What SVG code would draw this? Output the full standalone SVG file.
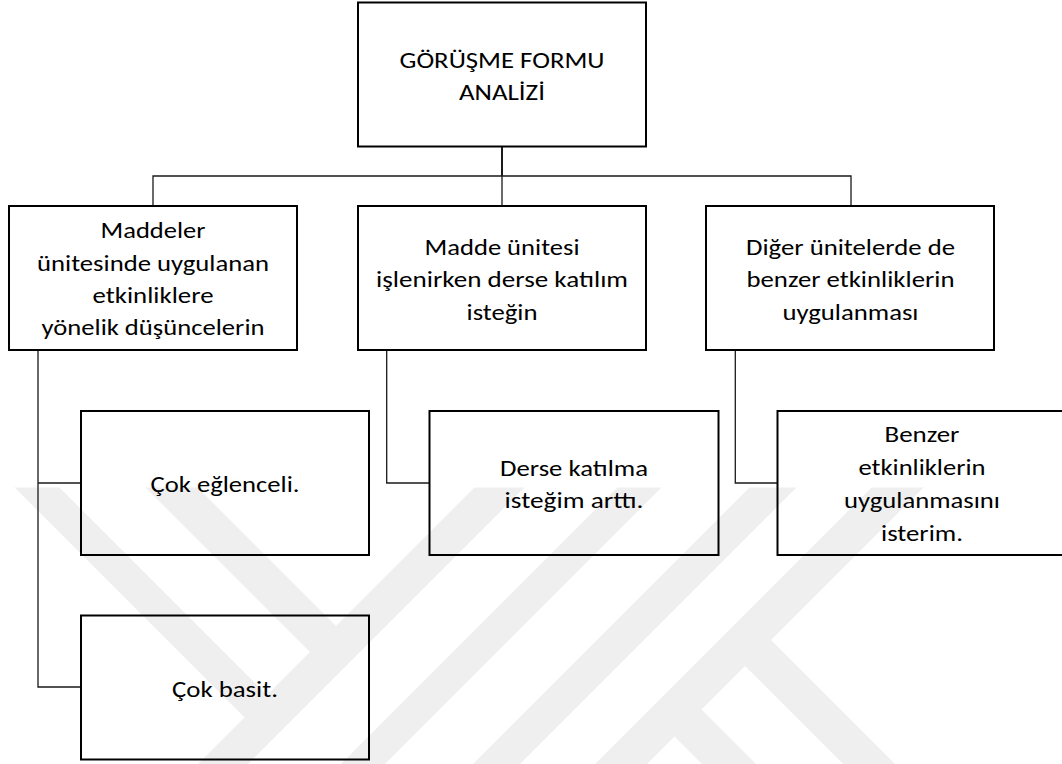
<svg xmlns="http://www.w3.org/2000/svg" width="1062" height="764" viewBox="0 0 1062 764">
<style>
  .box { fill: none; stroke: #000; stroke-width: 2; }
  .wire { fill: none; stroke: #1a1a1a; stroke-width: 1.3; }
  .wm { fill: #efefef; }
  text { font-family: Carlito, Lato, "Open Sans", sans-serif; font-size: 23px; font-weight: 300; fill: #000; text-anchor: middle; }
</style>
<defs>
  <clipPath id="wmclip"><rect x="0" y="487.5" width="1062" height="277"/></clipPath>
</defs>
<rect width="1062" height="764" fill="#fff"/>
<g id="watermark" clip-path="url(#wmclip)">
  <polygon class="wm" points="14,487 59,487 278.5,706.5 256,729"/>
  <polygon class="wm" points="145,487 197,487 347.5,637.5 321.5,663.5"/>
  <polygon class="wm" points="475,487 525,487 212,800 162,800"/>
  <polygon class="wm" points="618,487 662,487 349,800 305,800"/>
  <polygon class="wm" points="750,487 797,487 484,800 437,800"/>
  <polygon class="wm" points="872,487 924,487 611,800 559,800"/>
  <polygon class="wm" points="729.5,650.5 755.5,624.5 931,800 879,800"/>
  <polygon class="wm" points="659,721 686,694 792,800 738,800"/>
</g>
<g id="connectors">
  <line class="wire" x1="502" y1="147" x2="502" y2="176" style="stroke-width:2"/>
  <polyline class="wire" points="153,206 153,176 851,176 851,206"/>
  <line class="wire" x1="502" y1="176" x2="502" y2="206"/>
  <polyline class="wire" points="38,351 38,687 81,687"/>
  <line class="wire" x1="38" y1="483" x2="81" y2="483"/>
  <polyline class="wire" points="386.7,351 386.7,483 429.5,483"/>
  <polyline class="wire" points="735.3,351 735.3,483 777.5,483"/>
</g>
<g id="root">
  <rect class="box" x="358" y="2.5" width="288" height="144"/>
  <text x="502" y="67.5" textLength="205" lengthAdjust="spacingAndGlyphs">GÖRÜŞME FORMU</text>
  <text x="502" y="99.5" textLength="86" lengthAdjust="spacingAndGlyphs">ANALİZİ</text>
</g>
<g id="n-maddeler">
  <rect class="box" x="9" y="206" width="288" height="144"/>
  <text x="153" y="238.3" textLength="105" lengthAdjust="spacingAndGlyphs">Maddeler</text>
  <text x="153" y="270.6" textLength="232" lengthAdjust="spacingAndGlyphs">ünitesinde uygulanan</text>
  <text x="153" y="302.9" textLength="121" lengthAdjust="spacingAndGlyphs">etkinliklere</text>
  <text x="153" y="335.2" textLength="223" lengthAdjust="spacingAndGlyphs">yönelik düşüncelerin</text>
</g>
<g id="n-madde">
  <rect class="box" x="358" y="206" width="288" height="144"/>
  <text x="502" y="255" textLength="155" lengthAdjust="spacingAndGlyphs">Madde ünitesi</text>
  <text x="502" y="287.3" textLength="252" lengthAdjust="spacingAndGlyphs">işlenirken derse katılım</text>
  <text x="502" y="319.6" textLength="71" lengthAdjust="spacingAndGlyphs">isteğin</text>
</g>
<g id="n-diger">
  <rect class="box" x="706" y="206" width="288" height="144"/>
  <text x="850.5" y="255" textLength="209" lengthAdjust="spacingAndGlyphs">Diğer ünitelerde de</text>
  <text x="850.5" y="287.3" textLength="208" lengthAdjust="spacingAndGlyphs">benzer etkinliklerin</text>
  <text x="850.5" y="319.6" textLength="136" lengthAdjust="spacingAndGlyphs">uygulanması</text>
</g>
<g id="n-eglenceli">
  <rect class="box" x="81" y="411" width="288" height="144"/>
  <text x="225" y="492" textLength="149" lengthAdjust="spacingAndGlyphs">Çok eğlenceli.</text>
</g>
<g id="n-basit">
  <rect class="box" x="81" y="615.5" width="288" height="144"/>
  <text x="225" y="696.7" textLength="106" lengthAdjust="spacingAndGlyphs">Çok basit.</text>
</g>
<g id="n-derse">
  <rect class="box" x="429.5" y="411" width="289" height="144"/>
  <text x="574" y="475.7" textLength="148" lengthAdjust="spacingAndGlyphs">Derse katılma</text>
  <text x="574" y="508.3" textLength="139" lengthAdjust="spacingAndGlyphs">isteğim arttı.</text>
</g>
<g id="n-benzer">
  <rect class="box" x="777.5" y="411" width="289" height="144"/>
  <text x="922" y="441.5" textLength="75" lengthAdjust="spacingAndGlyphs">Benzer</text>
  <text x="922" y="474.5" textLength="127" lengthAdjust="spacingAndGlyphs">etkinliklerin</text>
  <text x="922" y="507.5" textLength="156" lengthAdjust="spacingAndGlyphs">uygulanmasını</text>
  <text x="922" y="540.5" textLength="82" lengthAdjust="spacingAndGlyphs">isterim.</text>
</g>
</svg>
